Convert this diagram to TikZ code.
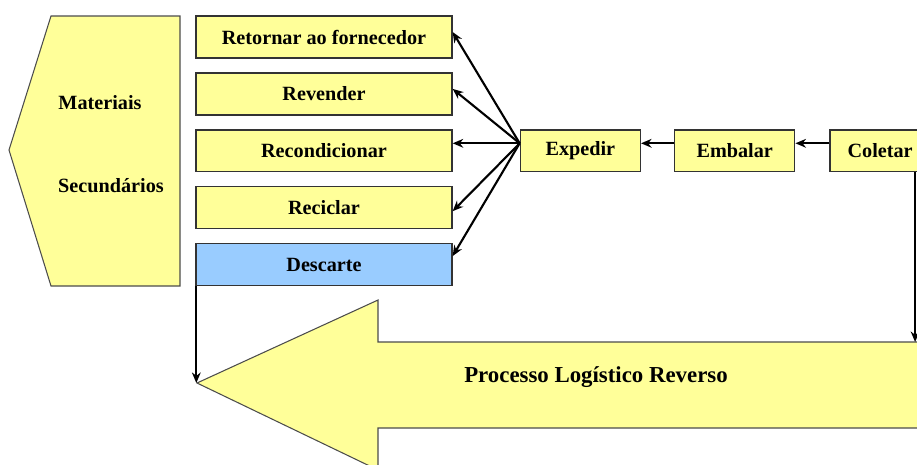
\documentclass[tikz,border=0pt]{standalone}
\usepackage{fontspec}
\setmainfont{Liberation Serif}
\usetikzlibrary{positioning}
\usetikzlibrary{arrows.meta}
\definecolor{boxyellow}{HTML}{FFFF99}
\definecolor{boxblue}{HTML}{99CCFF}
\newcommand{\labelfont}{\bfseries\fontsize{11.5}{13}\selectfont}

\begin{document}
\begin{tikzpicture}[x=0.02cm, y=-0.02cm]
            \tikzstyle{step box} = [draw=black!80, line width=0.8pt, fill=boxyellow, font=\labelfont, minimum height=0.84cm, inner sep=0pt]
            \tikzstyle{flow} = [line width=1.2pt, -{Stealth[length=6pt, width=5pt]}]
            \useasboundingbox (0, 0) rectangle (917, 464);

            % materiais secundarios
            \draw[fill=boxyellow, draw=black!70, line width=0.6pt] (51, 16) -- (180, 16) -- (180, 286) -- (51, 286) -- (9, 150) -- cycle;
            \node[font=\labelfont] (mat) at (100, 103) {Materiais};
            \node[font=\labelfont] (sec) at (111, 186) {Secundários};

            % destinos
            \node[step box, minimum width=5.12cm] (ret) at (324, 37) {Retornar ao fornecedor};
            \node[step box, minimum width=5.12cm, below=0.27cm of ret] (rev) {Revender};
            \node[step box, minimum width=5.12cm, below=0.27cm of rev] (rec) {Recondicionar};
            \node[step box, minimum width=5.12cm, below=0.27cm of rec] (recic) {Reciclar};
            \node[step box, minimum width=5.12cm, below=0.27cm of recic, fill=boxblue] (desc) {Descarte};

            % etapas
            \node[step box, minimum width=2.4cm, right=1.34cm of rec] (exp) {Expedir};
            \node[step box, minimum width=2.4cm, right=0.66cm of exp] (emb) {Embalar};
            \node[step box, minimum width=2cm, right=0.68cm of emb] (col) {Coletar};

            % seta grande
            \coordinate (tip) at (197, 383);
            \coordinate (arrtop) at (911, 342);
            \draw[fill=boxyellow, draw=black!70, line width=0.6pt] (tip) -- (378, 300) -- (378, 342) -- (940, 342) -- (940, 428) -- (378, 428) -- (378, 470) -- cycle;
            \node[font=\bfseries\fontsize{13}{15}\selectfont] (proc) at (596, 377) {Processo Logístico Reverso};

            \coordinate (hub) at ([yshift=0.15cm]exp.west);
            \foreach \dest/\shift in {ret/0.1, rev/0.1, rec/0.15, recic/-0.07, desc/0.17}
                \draw[flow] (hub) -- ([yshift=\shift cm]\dest.east);
            \draw[flow] ([yshift=0.15cm]emb.west) -- ([yshift=0.15cm]exp.east);
            \draw[flow] ([yshift=0.15cm]col.west) -- ([yshift=0.15cm]emb.east);
            \coordinate (down) at ([xshift=0.7cm]col.south);
            \draw[flow] (down) -- (down |- arrtop);
            \coordinate (left) at ([xshift=0.02cm]desc.south west);
            \draw[flow, line width=1pt] (left) -- (left |- tip);
        \end{tikzpicture}
\end{document}
